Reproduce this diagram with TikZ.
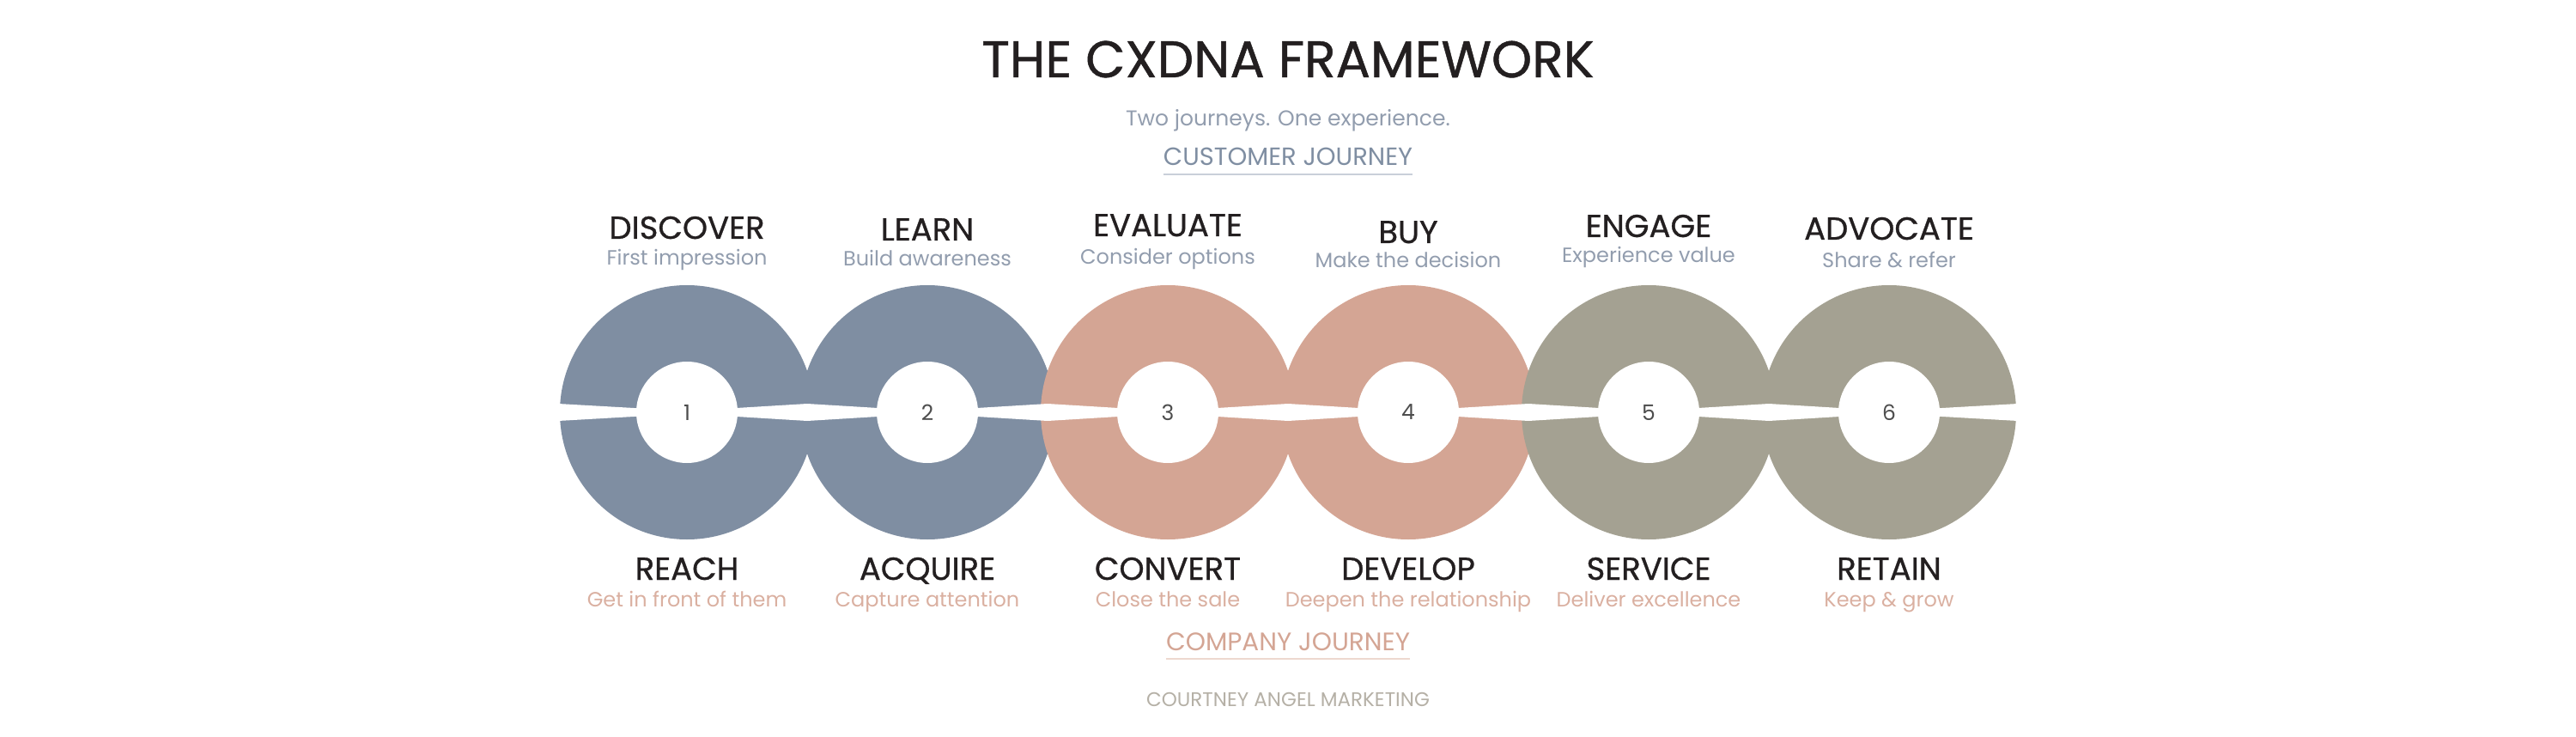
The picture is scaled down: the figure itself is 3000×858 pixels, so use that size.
\documentclass[tikz,border=0pt]{standalone}
\usepackage{fontspec}
\setmainfont{Poppins}
\newfontfamily\headfont{Poppins}[FakeBold=0.8]
\usepackage{tikz}
\usepackage{xcolor}
\definecolor{slate}{HTML}{7F8EA2}
\definecolor{blush}{HTML}{D4A594}
\definecolor{sage}{HTML}{A4A192}
\definecolor{ink}{HTML}{231F20}
\definecolor{slatetext}{HTML}{929DAE}
\definecolor{blushtext}{HTML}{DAB0A1}
\definecolor{slateline}{HTML}{C9CFD9}
\definecolor{blushline}{HTML}{EDD8CF}
\definecolor{footgrey}{HTML}{B5B0A6}
\definecolor{numgrey}{HTML}{4D4D4D}

\begin{document}
\begin{tikzpicture}[x=1pt, y=-1pt,  every node/.style={inner sep=0pt},  ring/.style={circle, minimum size=296pt},  hole/.style={circle, fill=white, minimum size=118pt, text=numgrey, font=\fontsize{25}{25}\selectfont},  stage/.style={anchor=base, text=ink, font=\headfont\fontsize{37}{40}\selectfont},  custnote/.style={anchor=base, text=slatetext, font=\fontsize{24}{26}\selectfont},  compnote/.style={anchor=base, text=blushtext, font=\fontsize{24}{26}\selectfont}]
  \useasboundingbox (0,0) rectangle (3000,858);

  \node[anchor=base, text=ink, font=\headfont\fontsize{60}{60}\selectfont] (title) at (1500,90) {THE CXDNA FRAMEWORK};
  \node[anchor=base, text=slatetext, font=\fontsize{25}{26}\selectfont] (tagline) at (1500,147) {Two journeys. One experience.};
  \node[anchor=base, text=slate, font=\fontsize{29}{30}\selectfont] (customer) at (1500,193) {CUSTOMER JOURNEY};
  \draw[slateline, line width=2.5pt] ([yshift=-10pt]customer.base west) -- ([yshift=-10pt]customer.base east);

  \node[ring, fill=slate] (r1) at (800,480) {};
  \node[ring, fill=slate] (r2) at (1080,480) {};
  \node[ring, fill=blush] (r3) at (1360,480) {};
  \node[ring, fill=blush] (r4) at (1640,480) {};
  \node[ring, fill=sage] (r5) at (1920,480) {};
  \node[ring, fill=sage] (r6) at (2200,480) {};

  \fill[white] (650,470) -- (800,478.5) -- (940,470) -- (1080,478.5) -- (1220,470) -- (1360,478.5) -- (1500,470) -- (1640,478.5) -- (1780,470) -- (1920,478.5) -- (2060,470) -- (2200,478.5) -- (2350,470)
    -- (2350,490) -- (2200,481.5) -- (2060,490) -- (1920,481.5) -- (1780,490) -- (1640,481.5) -- (1500,490) -- (1360,481.5) -- (1220,490) -- (1080,481.5) -- (940,490) -- (800,481.5) -- (650,490) -- cycle;

  \node[hole] (n1) at (r1) {1};
  \node[hole] (n2) at (r2) {2};
  \node[hole] (n3) at (r3) {3};
  \node[hole] (n4) at (r4) {4};
  \node[hole] (n5) at (r5) {5};
  \node[hole] (n6) at (r6) {6};

  \node[stage] (discover) at (800,278) {DISCOVER};
  \node[custnote] (discovernote) at (800,309) {First impression};
  \node[stage] (learn) at (1080,280) {LEARN};
  \node[custnote] (learnnote) at (1080,310) {Build awareness};
  \node[stage] (evaluate) at (1360,275) {EVALUATE};
  \node[custnote] (evaluatenote) at (1360,308) {Consider options};
  \node[stage] (buy) at (1640,283) {BUY};
  \node[custnote] (buynote) at (1640,312) {Make the decision};
  \node[stage] (engage) at (1920,276) {ENGAGE};
  \node[custnote] (engagenote) at (1920,306) {Experience value};
  \node[stage] (advocate) at (2200,279) {ADVOCATE};
  \node[custnote] (advocatenote) at (2200,312) {Share \& refer};

  \node[stage] (reach) at (800,675) {REACH};
  \node[compnote] (reachnote) at (800,706) {Get in front of them};
  \node[stage] (acquire) at (1080,675) {ACQUIRE};
  \node[compnote] (acquirenote) at (1080,706) {Capture attention};
  \node[stage] (convert) at (1360,675) {CONVERT};
  \node[compnote] (convertnote) at (1360,706) {Close the sale};
  \node[stage] (develop) at (1640,675) {DEVELOP};
  \node[compnote] (developnote) at (1640,706) {Deepen the relationship};
  \node[stage] (service) at (1920,675) {SERVICE};
  \node[compnote] (servicenote) at (1920,706) {Deliver excellence};
  \node[stage] (retain) at (2200,675) {RETAIN};
  \node[compnote] (retainnote) at (2200,706) {Keep \& grow};

  \node[anchor=base, text=blush, font=\fontsize{29.5}{30}\selectfont] (company) at (1500,757) {COMPANY JOURNEY};
  \draw[blushline, line width=2.5pt] ([yshift=-10pt]company.base west) -- ([yshift=-10pt]company.base east);
  \node[anchor=base, text=footgrey, font=\fontsize{23}{24}\selectfont] (footer) at (1500,822) {COURTNEY ANGEL MARKETING};
\end{tikzpicture}
\end{document}
